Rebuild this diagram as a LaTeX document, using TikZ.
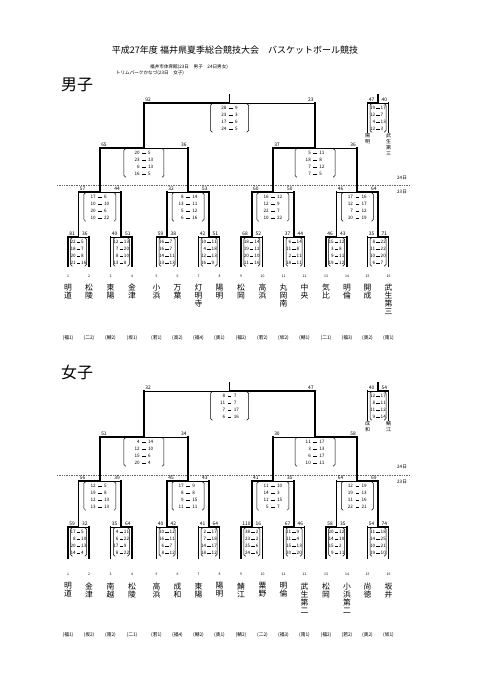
\documentclass[tikz,border=0pt]{standalone}
\usepackage{fontspec}
\setmainfont{Noto Sans CJK JP}
\usetikzlibrary{positioning}

\newcount\boutno
\def\dashgap{0.22em}
\newcommand{\sdash}{\hspace{\dashgap}\rule[0.3em]{0.75em}{0.08em}\hspace{\dashgap}}
% one game: xl, xr, top, foot, pts left, pts right, winner (0 left / 1 right), paren half width, quarters
\newcommand{\bout}[9]{%
  \global\advance\boutno by 1
  \pgfmathsetmacro{\xm}{(#1+#2)/2}%
  \pgfmathsetmacro{\pl}{\xm-#8}%
  \pgfmathsetmacro{\pr}{\xm+#8}%
  \ifnum#7=0
    \draw[win] (#1,#4) |- (\xm,#3);
    \draw[win] (#2,#4) -- (#2,#3);
    \draw[lose] (\xm,#3) -- (#2,#3);
  \else
    \draw[win] (#2,#4) |- (\xm,#3);
    \draw[win] (#1,#4) -- (#1,#3);
    \draw[lose] (#1,#3) -- (\xm,#3);
  \fi
  \draw[paren] (\pl+2,#3+0.8) -- (\pl,#3+0.8) -- (\pl,#3+29) -- (\pl+2,#3+29);
  \draw[paren] (\pr-2,#3+0.8) -- (\pr,#3+0.8) -- (\pr,#3+29) -- (\pr-2,#3+29);
  \node[quarters] (q\the\boutno) at (\xm,#3+1.4)
    {\begin{tabular}{@{}r@{\sdash}l@{}}#9\end{tabular}};
  \node[pts, anchor=south west] (pl\the\boutno) at (#1+1.2,#3-1) {#5};
  \node[pts, anchor=south east] (pr\the\boutno) at (#2-1.2,#3-1) {#6};
}

\begin{document}
\begin{tikzpicture}[x=1pt,y=-1pt,
  win/.style={line width=1.7pt, line cap=rect},
  lose/.style={line width=0.6pt},
  paren/.style={line width=0.5pt, rounded corners=1.5pt},
  quarters/.style={anchor=north, inner sep=0pt, font=\fontsize{4.6}{7}\selectfont},
  pts/.style={inner sep=0pt, font=\fontsize{4.9}{5}\selectfont},
  team/.style={anchor=north, inner sep=0pt, align=center, font=\fontsize{7.8}{8}\selectfont},
  tno/.style={inner sep=0pt, font=\fontsize{3.4}{4}\selectfont},
  seed/.style={inner sep=0pt, font=\fontsize{4.8}{5}\selectfont},
  day/.style={inner sep=0pt, font=\fontsize{4.6}{5}\selectfont},
  dayline/.style={densely dotted, black!60, line width=0.7pt},
  third/.style={anchor=north, inner sep=0pt, align=center, font=\fontsize{5}{6}\selectfont}
]
\fill[white] (0,0) rectangle (481,680);
\useasboundingbox (0,0) rectangle (481,680);

% heading
\node[font=\fontsize{9}{10}\selectfont, inner sep=0pt] (title) at (235,50)
  {平成27年度 福井県夏季総合競技大会\quad バスケットボール競技};
\node[day, anchor=west] (venue1) at (150,67) {福井市体育館(23日　男子　24日男女)};
\node[day, anchor=north west, below=1.2pt of venue1.south west] (venue2) {トリムパークかなづ(23日　女子)};

%%%%%%%%%%%%%%%% boys
\node[font=\fontsize{16}{17}\selectfont, anchor=west, inner sep=0pt] (boys) at (61,85) {男子};

% levels
\def\bfin{103} \def\bthr{148} \def\btwo{192} \def\bone{237} \def\bfoot{266}

% days
\draw[dayline] (57,185.5) -- (410,185.5);
\node[day] (bday24) at (402,177.7) {24日};
\node[day] (bday23) at (402,192) {23日};

% first round
\def\dashgap{0.22em}
\bout{68}{89}{\bone}{\bfoot}{81}{36}{0}{8}{22&5\\18&7\\20&8\\21&16}
\bout{110.5}{132}{\bone}{\bfoot}{40}{51}{1}{8}{12&13\\7&20\\8&10\\13&8}
\bout{156.5}{177.5}{\bone}{\bfoot}{59}{38}{0}{8}{16&7\\16&7\\14&11\\13&13}
\bout{198.5}{219.5}{\bone}{\bfoot}{42}{51}{1}{8}{10&11\\4&18\\12&13\\16&9}
\bout{241}{262.5}{\bone}{\bfoot}{68}{52}{0}{8}{18&14\\19&12\\20&10\\11&16}
\bout{283.5}{304.5}{\bone}{\bfoot}{37}{44}{1}{8}{6&14\\11&8\\2&11\\18&11}
\bout{326}{347}{\bone}{\bfoot}{46}{43}{0}{8}{15&12\\3&8\\9&11\\19&12}
\bout{367.5}{388.5}{\bone}{\bfoot}{35}{71}{1}{8}{8&22\\11&22\\10&20\\6&7}
% third place
\bout{367.5}{388.5}{\bfin}{132}{47}{40}{0}{8}{19&17\\12&7\\4&13\\12&3}
\draw[win] (378,\bfin) -- (378,95);
\node[third] (bthirdL) at (367.5,133) {陽\\明};
\node[third] (bthirdR) at (388.5,133) {武\\生\\第\\三};
% second round
\def\dashgap{0.55em}
\bout{78.5}{121.25}{\btwo}{\bone}{57}{44}{0}{16}{17&6\\10&10\\20&6\\10&22}
\bout{167}{209}{\btwo}{\bone}{32}{53}{1}{16}{8&14\\13&11\\5&12\\6&16}
\bout{251.75}{294}{\btwo}{\bone}{60}{50}{0}{16}{16&12\\12&9\\22&7\\10&22}
\bout{336.5}{378}{\btwo}{\bone}{46}{64}{1}{16}{17&16\\12&17\\7&12\\10&19}
% semi finals
\bout{99.875}{188}{\bthr}{\btwo}{65}{36}{0}{20}{20&5\\23&13\\6&13\\16&5}
\bout{272.875}{357.25}{\bthr}{\btwo}{37}{36}{0}{20}{5&11\\18&8\\7&12\\7&5}
% final
\bout{143.94}{315.06}{\bfin}{\bthr}{92}{23}{0}{19}{28&9\\23&3\\17&6\\24&5}
\draw[win] (229.5,\bfin) -- (229.5,95);

% teams
\foreach \x/\nm/\sd [count=\i] in {68/明\\道/福1, 89/松\\陵/二2, 110.5/東\\陽/鯖2,
  132/金\\津/坂1, 156.5/小\\浜/若1, 177.5/万\\葉/高2, 198.5/灯\\明\\寺/福4,
  219.5/陽\\明/奥1, 241/松\\岡/福2, 262.5/高\\浜/若2, 283.5/丸\\岡\\南/坂2,
  304.5/中\\央/鯖1, 326/気\\比/二1, 347/明\\倫/福3, 367.5/開\\成/奥2,
  388.5/武\\生\\第\\三/南1}
{
  \node[tno] (bno\i) at (\x,276) {\i};
  \node[team] (bteam\i) at (\x,284) {\nm};
  \node[seed] (bseed\i) at (\x,338) {(\sd)};
}

%%%%%%%%%%%%%%%% girls
\node[font=\fontsize{16}{17}\selectfont, anchor=west, inner sep=0pt] (girls) at (61,372) {女子};

\def\gfin{391} \def\gthr{437} \def\gtwo{481} \def\gone{527} \def\gfoot{558}

\draw[dayline] (57,475) -- (410,475);
\node[day] (gday24) at (402,467) {24日};
\node[day] (gday23) at (402,481.5) {23日};

% first round
\def\dashgap{0.22em}
\bout{68}{89}{\gone}{\gfoot}{59}{32}{0}{8}{17&5\\8&10\\20&13\\14&4}
\bout{110.5}{132}{\gone}{\gfoot}{35}{64}{1}{8}{4&11\\6&22\\17&9\\8&22}
\bout{156.5}{177.5}{\gone}{\gfoot}{40}{42}{1}{8}{10&12\\16&11\\6&7\\8&12}
\bout{198.5}{219.5}{\gone}{\gfoot}{41}{64}{1}{8}{2&17\\7&18\\14&17\\18&12}
\bout{241}{262.5}{\gone}{\gfoot}{110}{16}{0}{8}{38&2\\23&2\\25&6\\24&6}
\bout{283.5}{304.5}{\gone}{\gfoot}{67}{46}{0}{8}{21&9\\11&4\\15&13\\20&20}
\bout{326}{347}{\gone}{\gfoot}{58}{35}{0}{8}{20&12\\14&10\\15&2\\9&11}
\bout{367.5}{388.5}{\gone}{\gfoot}{54}{74}{1}{8}{11&18\\14&25\\10&21\\19&10}
% third place
\bout{367.5}{388.5}{\gfin}{420}{40}{54}{1}{8}{12&17\\8&11\\11&12\\9&14}
\draw[win] (378,\gfin) -- (378,383);
\node[third] (gthirdL) at (367.5,421) {成\\和};
\node[third] (gthirdR) at (388.5,421) {鯖\\江};
% second round
\def\dashgap{0.55em}
\bout{78.5}{121.25}{\gtwo}{\gone}{56}{39}{0}{16}{12&5\\19&8\\12&13\\13&13}
\bout{167}{209}{\gtwo}{\gone}{45}{43}{0}{16}{17&9\\8&8\\9&15\\11&11}
\bout{251.75}{294}{\gtwo}{\gone}{41}{35}{0}{16}{11&10\\14&3\\11&15\\5&7}
\bout{336.5}{378}{\gtwo}{\gone}{64}{69}{1}{16}{12&19\\19&13\\11&16\\22&21}
% semi finals
\bout{99.875}{188}{\gthr}{\gtwo}{51}{34}{0}{20}{4&14\\12&10\\15&6\\20&4}
\bout{272.875}{357.25}{\gthr}{\gtwo}{30}{58}{1}{20}{11&17\\3&13\\6&17\\10&11}
% final
\bout{143.94}{315.06}{\gfin}{\gthr}{32}{47}{1}{19}{8&7\\11&7\\7&17\\6&16}
\draw[win] (229.5,\gfin) -- (229.5,383);

% teams
\foreach \x/\nm/\sd [count=\i] in {68/明\\道/福1, 89/金\\津/坂2, 110.5/南\\越/南2,
  132/松\\陵/二1, 156.5/高\\浜/若1, 177.5/成\\和/福4, 198.5/東\\陽/鯖2,
  219.5/陽\\明/奥1, 241/鯖\\江/鯖2, 262.5/粟\\野/二2, 283.5/明\\倫/福3,
  304.5/武\\生\\第\\二/南1, 326/松\\岡/福2, 347/小\\浜\\第\\二/若2,
  367.5/尚\\徳/奥2, 388.5/坂\\井/坂1}
{
  \node[tno] (gno\i) at (\x,574) {\i};
  \node[team] (gteam\i) at (\x,582.5) {\nm};
  \node[seed] (gseed\i) at (\x,635) {(\sd)};
}
\end{tikzpicture}
\end{document}
